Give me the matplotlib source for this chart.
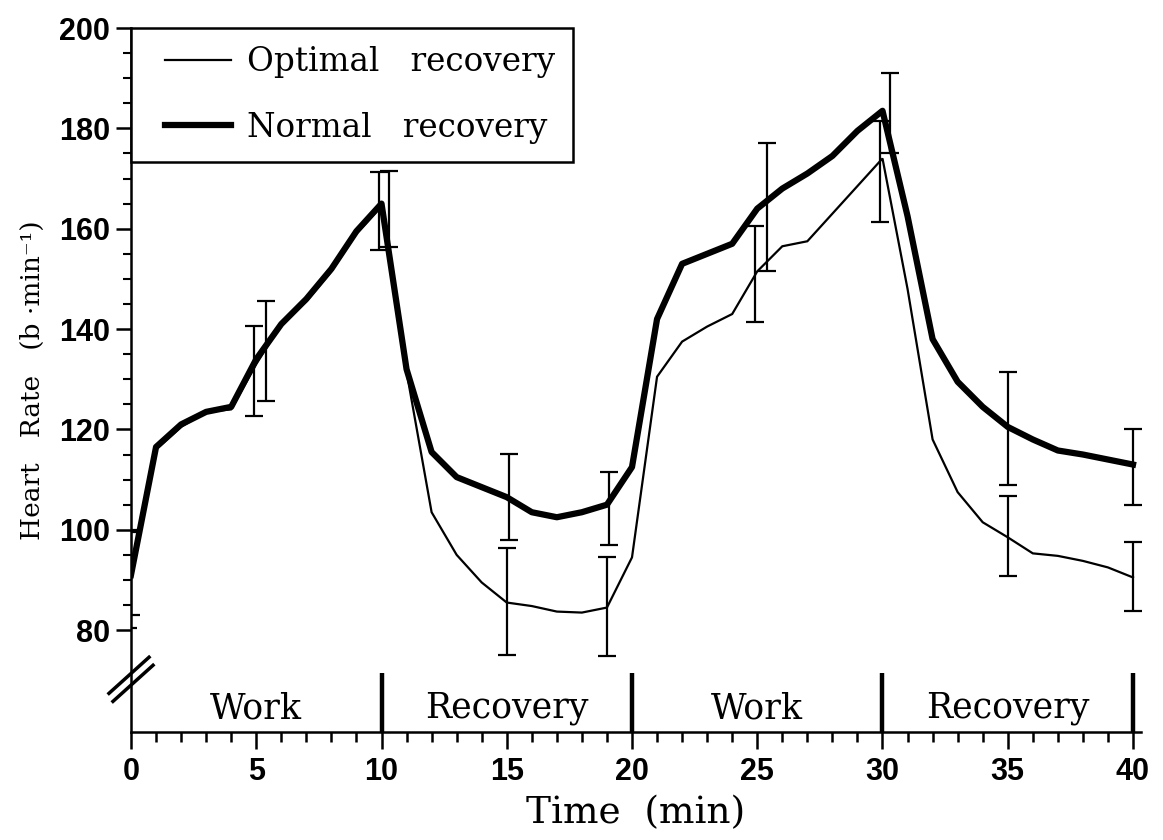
import numpy as np
import matplotlib
matplotlib.use("Agg")
import matplotlib.pyplot as plt
from matplotlib.lines import Line2D
from matplotlib.legend_handler import HandlerLine2D

# minutes
tiempo = np.arange(0, 41)

# optimal recovery (thin line)
optimal = [90, 116, 120.5, 123.5, 124, 133, 141, 145.5, 151.5, 159, 164.5,
           131.5, 103.5, 95, 89.5, 85.5, 84.8, 83.7, 83.5, 84.5, 94.5,
           130.5, 137.5, 140.5, 143, 151.5, 156.5, 157.5, 163, 168.5, 174,
           148, 118, 107.5, 101.5, 98.5, 95.3, 94.8, 93.8, 92.5, 90.5]

# normal recovery (thick line)
normal = [91, 116.5, 121, 123.5, 124.5, 134, 141, 146, 152, 159.5, 165,
          132, 115.5, 110.5, 108.5, 106.5, 103.5, 102.5, 103.5, 105, 112.5,
          142, 153, 155, 157, 164, 168, 171, 174.5, 179.5, 183.5,
          162.5, 138, 129.5, 124.5, 120.5, 118, 115.8, 115, 114, 113]

# error bars
opt_err_t = [-0.1, 4.9, 9.9, 15, 19, 24.9, 29.9, 35, 40]
opt_err_m = [90, 131.6, 163.6, 85.7, 84.7, 151, 171.4, 98.8, 90.7]
opt_err_sd = [9.5, 9, 7.8, 10.6, 9.8, 9.5, 10, 8, 6.9]

nor_err_t = [0, 5.4, 10.3, 15.1, 19.1, 25.4, 30.3, 35, 40]
nor_err_m = [91.5, 135.6, 163.9, 106.6, 104.3, 164.3, 183, 120.2, 112.5]
nor_err_sd = [8.5, 9.9, 7.6, 8.6, 7.3, 12.8, 8, 11.2, 7.5]

# fases
fases = ["Work", "Recovery", "Work", "Recovery"]
fase_centro = [5, 15, 25, 35]
fase_limite = [10, 20, 30, 40]

serif = "DejaVu Serif"
sans = "Liberation Sans"

fig = plt.figure(figsize=(11.63, 8.4), dpi=100)
ax = fig.add_axes([131 / 1163, 108 / 840, 40.3 * 25.05 / 1163, 704 / 840])

ax.plot(tiempo, optimal, color="k", lw=1.6, solid_joinstyle="miter")
ax.plot(tiempo, normal, color="k", lw=4.5, solid_joinstyle="round")

ax.errorbar(opt_err_t, opt_err_m, yerr=opt_err_sd, fmt="none", ecolor="k",
            elinewidth=1.6, capsize=6.5, capthick=1.6)
ax.errorbar(nor_err_t, nor_err_m, yerr=nor_err_sd, fmt="none", ecolor="k",
            elinewidth=1.6, capsize=6.5, capthick=1.6)

ax.set_xlim(0, 40.3)
ax.set_ylim(59.7, 200)

for s in ["top", "right"]:
    ax.spines[s].set_visible(False)
for s in ["left", "bottom"]:
    ax.spines[s].set_linewidth(1.8)

ax.set_xticks(np.arange(0, 41, 5))
ax.set_xticks(np.arange(0, 41, 1), minor=True)
ax.set_yticks(np.arange(80, 201, 20))
ax.set_yticks(np.arange(80, 201, 5), minor=True)
ax.tick_params(axis="x", which="major", direction="out", length=12, width=1.8, pad=6)
ax.tick_params(axis="x", which="minor", direction="out", length=7, width=1.8)
ax.tick_params(axis="y", which="major", direction="out", length=11, width=1.8, pad=4)
ax.tick_params(axis="y", which="minor", direction="out", length=6, width=1.5)
for lab in ax.get_xticklabels() + ax.get_yticklabels():
    lab.set_fontfamily(sans)
    lab.set_fontweight("bold")
    lab.set_fontsize(22)

# bloques work / recovery
for x in fase_limite:
    ax.plot([x, x], [59.7, 71.4], color="k", lw=3.2, clip_on=False,
            solid_capstyle="butt")
for nombre, xc in zip(fases, fase_centro):
    ax.text(xc, 64.4, nombre, ha="center", va="center", fontsize=25,
            family=serif)

# corte del eje y
ax.plot([-0.88, 0.72], [67.4, 74.6], color="k", lw=2.5, clip_on=False)
ax.plot([-0.72, 0.88], [65.8, 73.0], color="k", lw=2.5, clip_on=False)

ax.set_xlabel("Time  (min)", family=serif, fontsize=27, labelpad=6)
ax.set_ylabel("Heart   Rate   (b ·min⁻¹)", family=serif, fontsize=19, labelpad=10)

handles = [Line2D([], [], color="k", lw=1.6), Line2D([], [], color="k", lw=4.5)]
leg = ax.legend(handles, ["Optimal   recovery", "Normal   recovery"],
                loc="upper left", bbox_to_anchor=(0, 1), borderaxespad=0,
                fancybox=False, framealpha=1, edgecolor="k",
                prop={"family": serif, "size": 23.5}, handlelength=2.5,
                handletextpad=0.5, labelspacing=1.03, borderpad=0.55,
                handler_map={Line2D: HandlerLine2D(xpad=0.5)})
leg.get_frame().set_linewidth(1.8)

fig.savefig("out.png", dpi=100)
